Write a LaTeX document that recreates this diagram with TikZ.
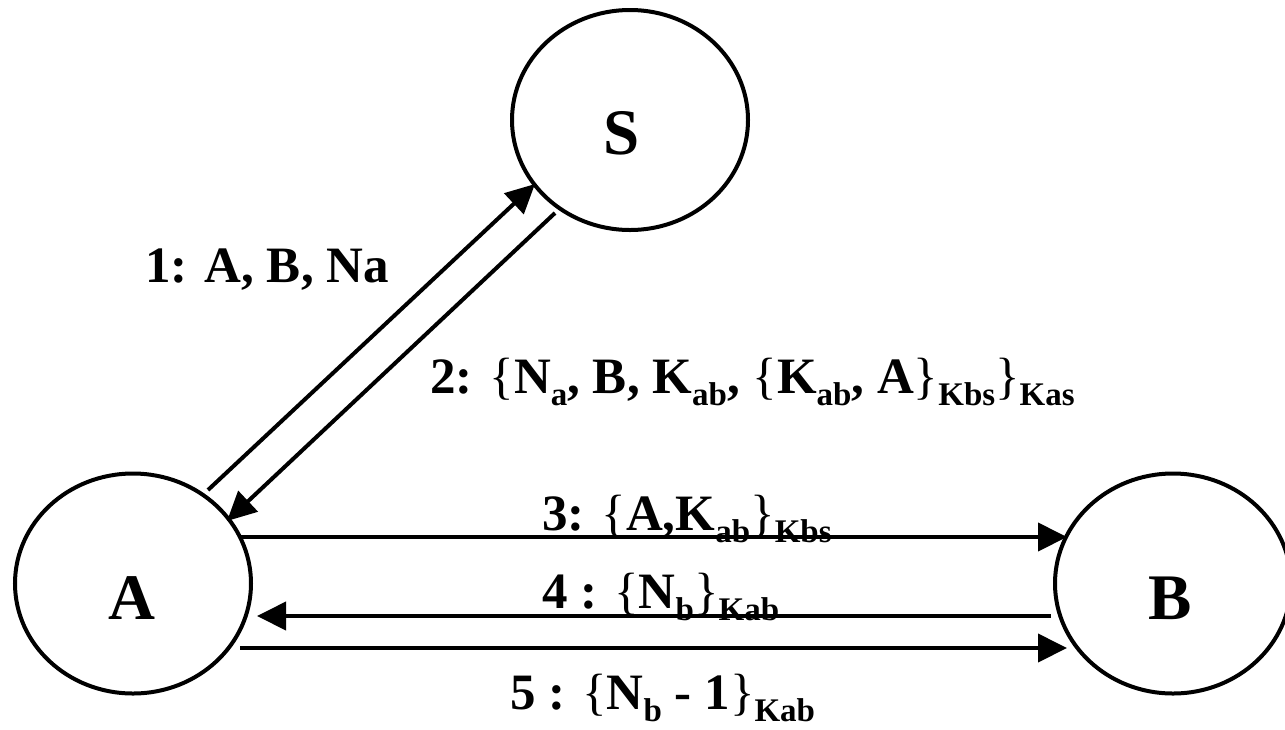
\documentclass[tikz,border=0pt]{standalone}
\usepackage{fontspec}
\setmainfont{Liberation Serif}
\usetikzlibrary{shapes.geometric,arrows.meta}
\newcommand{\sbt}[1]{\raisebox{-12pt}{\fontsize{33}{33}\selectfont\bfseries #1}}
\newcommand{\lbr}{{\mdseries\{}}
\newcommand{\rbr}{{\mdseries\}}}
\begin{document}
\begin{tikzpicture}[x=1pt,y=-1pt,
  party/.style={ellipse, draw, line width=4pt, minimum width=236pt, minimum height=220pt, inner sep=0pt},
  msg/.style={line width=4pt, -{Triangle[length=29pt,width=28pt]}},
  lbl/.style={font=\fontsize{51}{60}\selectfont\bfseries, inner sep=0pt, anchor=base west},
  pname/.style={font=\fontsize{65}{70}\selectfont\bfseries, inner sep=0pt}]
\useasboundingbox (0,0) rectangle (1285,729);
\node[party] (S) at (630,120) {};
\node[party] (A) at (133,583.5) {};
\node[party] (B) at (1173,583.5) {};
\node[pname] (Sn) at (622,133) {S};
\node[pname] (An) at (132,598) {A};
\node[pname] (Bn) at (1170,598) {B};
\node[lbl] (m1) at (145,282) {1: A, B, Na};
\node[lbl] (m2) at (430,393) {2: \lbr N\sbt{a}, B, K\sbt{ab}, \lbr K\sbt{ab}, A\rbr\sbt{Kbs}\rbr\sbt{Kas}};
\node[lbl] (m3) at (542,530) {3: \lbr A,K\sbt{ab}\rbr\sbt{Kbs}};
\node[lbl] (m4) at (542,608) {4 : \lbr N\sbt{b}\rbr\sbt{Kab}};
\node[lbl] (m5) at (510,709) {5 : \lbr N\sbt{b} - 1\rbr\sbt{Kab}};
\draw[msg] ([shift={(75,-93.5)}]A.center) -- ([shift={(-95,64)}]S.center);
\draw[msg] ([shift={(-75,93)}]S.center) -- ([shift={(94,-62.5)}]A.center);
\draw[msg] ([shift={(107,-46.5)}]A.center) -- ([shift={(-106,-46.5)}]B.center);
\draw[msg] ([shift={(-122,32.5)}]B.center) -- ([shift={(124,32.5)}]A.center);
\draw[msg] ([shift={(107,64.5)}]A.center) -- ([shift={(-106,64.5)}]B.center);
\end{tikzpicture}
\end{document}
